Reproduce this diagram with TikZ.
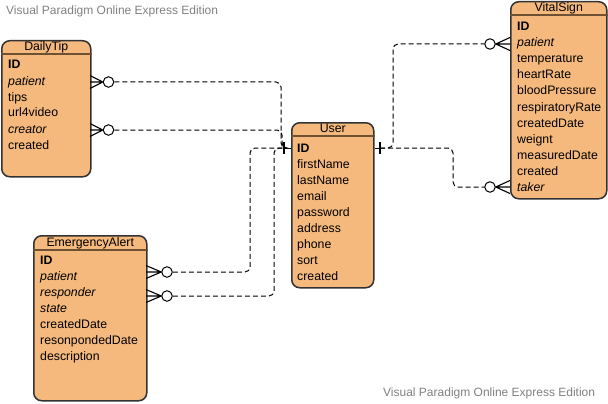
\documentclass[tikz,border=0pt]{standalone}
\usepackage{fontspec}
\setmainfont{Liberation Sans}
\definecolor{entfill}{RGB}{245,185,125}
\definecolor{entline}{RGB}{50,50,50}
\definecolor{hdrline}{RGB}{110,80,50}
\definecolor{wmgray}{RGB}{128,128,128}
\begin{document}
\begin{tikzpicture}[x=1pt,y=-1pt,
 ent/.style={draw=entline, fill=entfill, line width=1.5pt, rounded corners=8pt, inner sep=0pt, anchor=north west},
 hdr/.style={draw=hdrline, line width=1.2pt},
 ttl/.style={font=\fontsize{12.3}{14}\selectfont, inner sep=0pt, anchor=base},
 attr/.style={font=\fontsize{12.3}{14}\selectfont, inner sep=0pt, anchor=base west},
 wm/.style={font=\fontsize{12}{14}\selectfont, text=wmgray, inner sep=0pt, anchor=base west},
 rel/.style={draw=black, line width=1pt, dash pattern=on 5pt off 3pt, rounded corners=5pt},
 crowc/.style={circle, draw=black, fill=white, line width=1pt, minimum size=10.5pt, inner sep=0pt},
 crowl/.style={line width=1.1pt},
 bar/.style={line width=1.4pt}]
\useasboundingbox (0,0) rectangle (608,404);

% watermarks
\node[wm] (wm1) at (6,15) {Visual Paradigm Online Express Edition};
\node[wm] (wm2) at (383,396) {Visual Paradigm Online Express Edition};

% DailyTip
\node[ent, minimum width=89pt, minimum height=136pt] (dt) at (1,40) {};
\draw[hdr] ([yshift=-14pt]dt.north west) -- ([yshift=-14pt]dt.north east);
\node[ttl] (dtT) at ([yshift=-11pt]dt.north) {DailyTip};
\foreach \t [count=\i] in {\textbf{ID},\textit{patient},tips,url4video,\textit{creator},created}
  \node[attr] (dt-\i) at (8,{69+16*(\i-1)}) {\t};

% User
\node[ent, minimum width=82pt, minimum height=165pt] (user) at (291,122) {};
\draw[hdr] ([yshift=-14pt]user.north west) -- ([yshift=-14pt]user.north east);
\node[ttl] (userT) at ([yshift=-10.5pt]user.north) {User};
\foreach \t [count=\i] in {\textbf{ID},firstName,lastName,email,password,address,phone,sort,created}
  \node[attr] (user-\i) at (297,{152+16*(\i-1)}) {\t};

% VitalSign
\node[ent, minimum width=96pt, minimum height=197pt] (vs) at (510,1) {};
\draw[hdr] ([yshift=-14pt]vs.north west) -- ([yshift=-14pt]vs.north east);
\node[ttl] (vsT) at ([yshift=-10.5pt]vs.north) {VitalSign};
\foreach \t [count=\i] in {\textbf{ID},\textit{patient},temperature,heartRate,bloodPressure,respiratoryRate,createdDate,weignt,measuredDate,created,\textit{taker}}
  \node[attr] (vs-\i) at (517,{31+16*(\i-1)}) {\t};

% EmergencyAlert
\node[ent, minimum width=113pt, minimum height=165pt] (ea) at (33,235) {};
\draw[hdr] ([yshift=-15pt]ea.north west) -- ([yshift=-15pt]ea.north east);
\node[ttl] (eaT) at ([yshift=-11.5pt]ea.north) {EmergencyAlert};
\foreach \t [count=\i] in {\textbf{ID},\textit{patient},\textit{responder},\textit{state},createdDate,resonpondedDate,description}
  \node[attr] (ea-\i) at (40,{264+16*(\i-1)}) {\t};

% crow's feet (many side)
\node[crowc] (dtc1) at (108.5,82) {};
\draw[crowl] (90,75.5) -- (dtc1.west) -- (90,88.5) (90,82) -- (dtc1.west);
\node[crowc] (dtc2) at (108.5,130) {};
\draw[crowl] (90,123.5) -- (dtc2.west) -- (90,136.5) (90,130) -- (dtc2.west);
\node[crowc] (eac1) at (167,272) {};
\draw[crowl] (146,265.5) -- (eac1.west) -- (146,278.5) (146,272) -- (eac1.west);
\node[crowc] (eac2) at (167,296) {};
\draw[crowl] (146,289.5) -- (eac2.west) -- (146,302.5) (146,296) -- (eac2.west);
\node[crowc] (vsc1) at (490,44) {};
\draw[crowl] (510,37.5) -- (vsc1.east) -- (510,50.5) (510,44) -- (vsc1.east);
\node[crowc] (vsc2) at (490,187) {};
\draw[crowl] (510,180.5) -- (vsc2.east) -- (510,193.5) (510,187) -- (vsc2.east);

% one side markers
\coordinate (uL) at (284,148);
\coordinate (uR) at (380,148);
\draw[line width=1pt] (uL) -- (user.west |- uL);
\draw[line width=1pt] (uR) -- (user.east |- uR);
\draw[bar] ([yshift=6pt]uL) -- ([yshift=-6pt]uL);
\draw[bar] ([yshift=6pt]uR) -- ([yshift=-6pt]uR);

% relationships
\draw[rel] (dtc1.east) -- (281,82) -- (281,148) -- (uL);
\draw[rel] (dtc2.east) -- (282,130) -- (282,148) -- (uL);
\draw[rel] (eac1.east) -- (250,272) -- (250,148) -- (uL);
\draw[rel] (eac2.east) -- (274,296) -- (274,148) -- (uL);
\draw[rel] (uR) -- (393,148) -- (393,44) -- (vsc1.west);
\draw[rel] (uR) -- (453,148) -- (453,187) -- (vsc2.west);
\end{tikzpicture}
\end{document}
